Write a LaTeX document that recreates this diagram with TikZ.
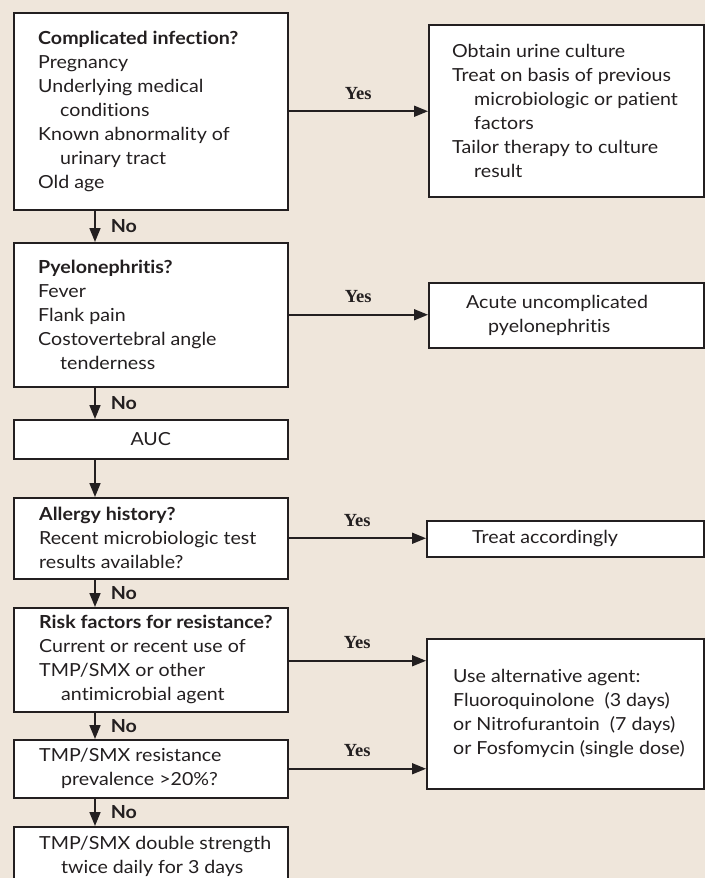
\documentclass[tikz,border=0pt]{standalone}
\usepackage{fontspec}
\setmainfont[FakeStretch=1.09, Ligatures={TeX,NoCommon}]{Lato}
\newfontfamily\yesfont{Liberation Serif}
\usetikzlibrary{arrows.meta}
\definecolor{bg}{RGB}{239,230,219}
\definecolor{ink}{RGB}{35,31,32}
\newcommand\ind{\hspace*{22pt}}
\tikzset{
  box/.style={draw=ink, line width=1.5pt, fill=white, anchor=north west, inner sep=0pt},
  txt/.style={anchor=west, align=left, inner sep=0pt, text=ink, font=\fontsize{18}{24}\selectfont},
  arr/.style={draw=ink, line width=1.7pt, -{Triangle[length=14pt,width=11pt]}},
  yes/.style={midway, above=11pt, inner sep=0pt, text=ink, font=\yesfont\bfseries\fontsize{18.5}{20}\selectfont},
  no/.style={midway, right=15pt, inner sep=0pt, text=ink, font=\bfseries\fontsize{18}{20}\selectfont},
}
\begin{document}
\begin{tikzpicture}[x=1pt,y=-1pt]
\useasboundingbox (0,0) rectangle (705,878);
\fill[bg] (0,0) rectangle (705,878);

% left column boxes
\node[box, minimum width=274pt, minimum height=197pt] (b1) at (13,12) {};
\node[box, minimum width=274pt, minimum height=144pt] (b2) at (13,242) {};
\node[box, minimum width=274pt, minimum height=39pt]  (b3) at (13,419) {};
\node[box, minimum width=274pt, minimum height=81pt]  (b4) at (13,497) {};
\node[box, minimum width=274pt, minimum height=104pt] (b5) at (13,607) {};
\node[box, minimum width=274pt, minimum height=58pt]  (b6) at (13,739) {};
\node[box, minimum width=274pt, minimum height=60pt]  (b7) at (13,826) {};

% right column boxes
\node[box, minimum width=275pt, minimum height=172pt] (r1) at (428,24) {};
\node[box, minimum width=275pt, minimum height=65pt]  (r2) at (428,282) {};
\node[box, minimum width=277pt, minimum height=36pt]  (r3) at (426,520) {};
\node[box, minimum width=277pt, minimum height=150pt] (r4) at (426,638) {};

% texts
\node[txt] (t1) at ([xshift=25pt]b1.west) {\textbf{Complicated infection?}\\Pregnancy\\Underlying medical\\\ind conditions\\Known abnormality of\\\ind urinary tract\\Old age};
\node[txt] (t2) at ([xshift=25pt]b2.west) {\textbf{Pyelonephritis?}\\Fever\\Flank pain\\Costovertebral angle\\\ind tenderness};
\node[txt, anchor=center] (t3) at (b3.center) {AUC};
\node[txt] (t4) at ([xshift=26pt]b4.west) {\textbf{Allergy history?}\\Recent microbiologic test\\results available?};
\node[txt] (t5) at ([xshift=26pt]b5.west) {\textbf{Risk factors for resistance?}\\Current or recent use of\\TMP/SMX or other\\\ind antimicrobial agent};
\node[txt] (t6) at ([xshift=26pt]b6.west) {TMP/SMX resistance\\\ind prevalence >20\%?};
\node[txt] (t7) at ([xshift=26pt]b7.west) {TMP/SMX double strength\\\ind twice daily for 3 days};

\node[txt] (s1) at ([xshift=24pt]r1.west) {Obtain urine culture\\Treat on basis of previous\\\ind microbiologic or patient\\\ind factors\\Tailor therapy to culture\\\ind result};
\node[txt] (s2) at ([xshift=38pt]r2.west) {Acute uncomplicated\\\ind pyelonephritis};
\node[txt] (s3) at ([xshift=46pt]r3.west) {Treat accordingly};
\node[txt] (s4) at ([xshift=27pt]r4.west) {Use alternative agent:\\Fluoroquinolone\ \ (3 days)\\or Nitrofurantoin\ \ (7 days)\\or Fosfomycin (single dose)};

% vertical arrows
\draw[arr] ([xshift=82pt]b1.south west) -- node[no] {No} ([xshift=82pt]b2.north west);
\draw[arr] ([xshift=82pt]b2.south west) -- node[no] {No} ([xshift=82pt]b3.north west);
\draw[arr] ([xshift=82pt]b3.south west) -- ([xshift=82pt]b4.north west);
\draw[arr] ([xshift=82pt]b4.south west) -- node[no] {No} ([xshift=82pt]b5.north west);
\draw[arr] ([xshift=82pt]b5.south west) -- node[no] {No} ([xshift=82pt]b6.north west);
\draw[arr] ([xshift=82pt]b6.south west) -- node[no] {No} ([xshift=82pt]b7.north west);

% horizontal arrows
\draw[arr] (b1.east) -- node[yes] {Yes} (b1.east -| r1.west);
\draw[arr] (b2.east) -- node[yes] {Yes} (b2.east -| r2.west);
\draw[arr] (b4.east) -- node[yes] {Yes} (b4.east -| r3.west);
\draw[arr] ([yshift=-1pt]b5.east) -- node[yes] {Yes} ([yshift=-1pt]b5.east -| r4.west);
\draw[arr] (b6.east) -- node[yes] {Yes} (b6.east -| r4.west);
\end{tikzpicture}
\end{document}
